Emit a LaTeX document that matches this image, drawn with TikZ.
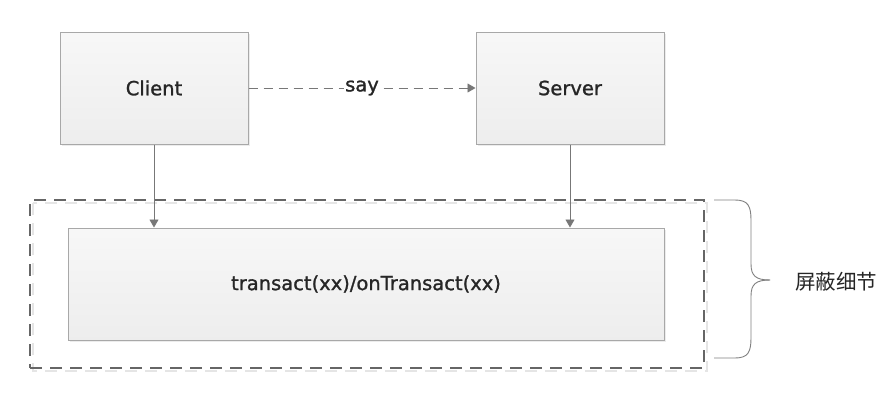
\documentclass[tikz,border=0pt]{standalone}
\usepackage{fontspec}
\setmainfont{DejaVu Sans}
\newfontfamily\labfont[FakeBold=1.2]{DejaVu Sans}
\newfontfamily\cjk{Noto Sans CJK SC}
\usetikzlibrary{arrows.meta,shadows}
\definecolor{boxline}{HTML}{A8A8A8}
\definecolor{arrowc}{HTML}{777777}
\definecolor{txt}{HTML}{262626}
\tikzset{
  boxnode/.style={draw=boxline, line width=1pt, top color=white!97!black, bottom color=white!93!black,
    drop shadow={shadow xshift=2pt, shadow yshift=-2pt, fill=black!12, opacity=0.6},
    text=txt, font=\labfont\fontsize{19.5}{22}\selectfont, inner sep=0pt},
  conn/.style={draw=arrowc, line width=0.9pt, -{Triangle[width=9pt,length=8pt]}},
}
\begin{document}
\begin{tikzpicture}[x=1pt,y=-1pt]
\useasboundingbox[fill=white] (0,0) rectangle (888,400);
\node[boxnode, minimum width=188pt, minimum height=112pt] (client) at (154,88) {Client};
\node[boxnode, minimum width=188pt, minimum height=112pt] (server) at (570,88) {Server};
\draw[draw=white!90!black, line width=1.5pt, dash pattern=on 12pt off 8pt] (33,203) rectangle (707,371);
\node[draw=black!60, line width=1.5pt, dash pattern=on 12pt off 8pt, minimum width=674pt, minimum height=168pt, inner sep=0pt] (outer) at (367,284) {};
\node[boxnode, minimum width=596pt, minimum height=112pt] (inner) at (366,284) {transact(xx)/onTransact(xx)};
\draw[conn] (client.south) -- (client.south |- inner.north);
\draw[conn] (server.south) -- (server.south |- inner.north);
\draw[conn, dash pattern=on 9pt off 6pt] (client.east) -- node[fill=white, inner sep=1pt, text=txt, font=\labfont\fontsize{19.5}{22}\selectfont] (say) {say} (server.west);
\coordinate (btop) at (714,200);
\coordinate (bbot) at (714,358);
\coordinate (btip) at (770,280);
\draw[draw=black!50, line width=0.9pt] (btop) -- (735,200) .. controls (748,200) and (751,206) .. (751,220) -- (751,264) .. controls (751,276) and (756,280) .. (btip);
\draw[draw=black!50, line width=0.9pt] (bbot) -- (735,358) .. controls (748,358) and (751,352) .. (751,338) -- (751,296) .. controls (751,284) and (756,280) .. (btip);
\node[anchor=west, text=txt, font=\cjk\fontsize{20.5}{24}\selectfont, inner sep=0pt] (label) at (795,282) {屏蔽细节};
\end{tikzpicture}
\end{document}
